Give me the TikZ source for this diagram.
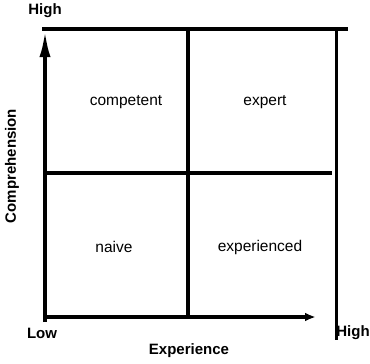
\documentclass[tikz,border=0pt]{standalone}
\usepackage{fontspec}
\setmainfont{Liberation Sans}
\usetikzlibrary{arrows.meta}
\tikzset{
  axislabel/.style={font=\bfseries\fontsize{15}{17}\selectfont, inner sep=0pt},
  quadlabel/.style={font=\fontsize{15.5}{18}\selectfont, inner sep=0pt},
  heavy/.style={line width=3.8pt},
}
\begin{document}
\begin{tikzpicture}[x=1pt,y=-1pt]
\useasboundingbox (0,0) rectangle (370,364);
% named points
\coordinate (tl) at (42,29);
\coordinate (tr) at (348,29);
\coordinate (lbot) at (45,322);
\coordinate (ltop) at (45,30);
\coordinate (bl) at (43,317);
\coordinate (br) at (329,317);
\coordinate (mt) at (188,29);
\coordinate (mb) at (188,317);
\coordinate (rt) at (336.5,29);
\coordinate (rb) at (336.5,340);
\coordinate (hl) at (44,173);
\coordinate (hr) at (332,173);
% lines
\draw[heavy] (tl) -- (tr);
\draw[heavy] (mt) -- (mb);
\draw[heavy] (rt) -- (rb);
\draw[heavy] (hl) -- (hr);
\draw[heavy, -{Latex[length=27pt,width=11pt]}] (lbot) -- (ltop);
\draw[heavy, -{Latex[length=24pt,width=7pt]}] (bl) -- (br);
% labels
\node[axislabel] (hightop) at (45,11) {High};
\node[axislabel] (low) at (42,333) {Low};
\node[axislabel] (highright) at (353,333) {High};
\node[axislabel] (exp) at (189,351) {Experience};
\node[axislabel, rotate=90] (comp) at (12,166) {Comprehension};
\node[quadlabel] (competent) at (126,102) {competent};
\node[quadlabel] (expert) at (265,102) {expert};
\node[quadlabel] (naive) at (114,247) {naive};
\node[quadlabel] (experienced) at (260,247) {experienced};
\end{tikzpicture}
\end{document}
